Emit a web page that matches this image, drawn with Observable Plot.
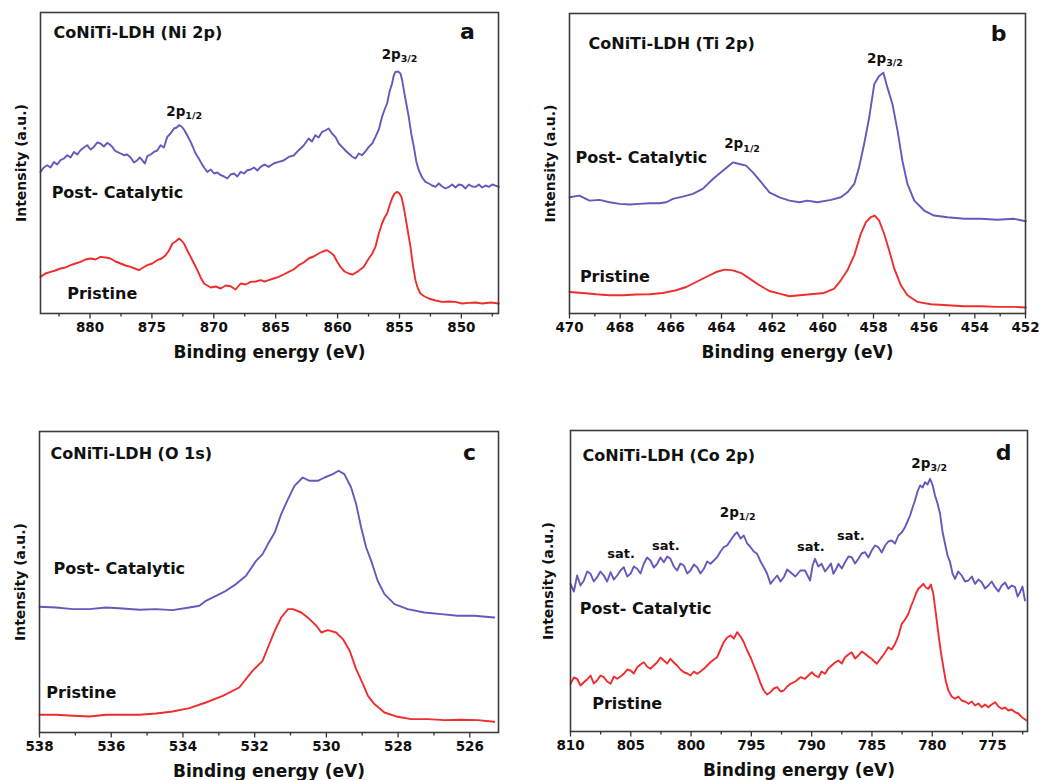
<!DOCTYPE html>
<html><head><meta charset="utf-8">
<script src="https://cdn.jsdelivr.net/npm/d3@7"></script>
<script src="https://cdn.jsdelivr.net/npm/@observablehq/plot@0.6"></script>
<style>
body{margin:0;background:#fff;}
#wrap{position:relative;width:1040px;height:780px;overflow:hidden;}
.panel{position:absolute;}
</style></head><body><div id="wrap"></div>
<script>
// ---------- data (binding energy eV, intensity a.u.) ----------
const niPost = [[884.0,141.6],[883.73,146],[883.46,148.3],[883.19,146],[882.92,151.6],[882.65,149],[882.38,153.3],[882.11,155],[881.84,158.3],[881.57,156],[881.30,161.6],[881.03,159],[880.77,163.3],[880.5,166],[880.23,168.3],[879.96,164],[879.69,166.6],[879.42,171],[879.15,170],[878.88,167],[878.61,170.6],[878.40,169],[878.20,166.6],[878.0,163],[877.80,161.6],[877.53,160],[877.26,158.3],[877.0,159],[876.72,156],[876.45,151],[876.18,153.3],[875.98,156],[875.78,153.3],[875.57,150],[875.37,157.3],[875.1,159],[874.84,161.6],[874.57,163],[874.30,168.3],[874.03,166],[873.76,176.6],[873.49,180],[873.22,185],[873.0,186],[872.81,188.3],[872.6,187],[872.41,184],[872.14,178],[871.87,171.6],[871.67,166],[871.47,160],[871.26,156],[871.06,151.6],[870.79,146],[870.52,141.6],[870.25,144],[869.98,140],[869.71,141],[869.44,138.3],[869.17,137],[868.91,135],[868.64,139],[868.37,140],[868.1,137],[867.83,141.6],[867.56,140],[867.29,143.3],[867.02,144],[866.75,146],[866.48,143],[866.21,146.6],[865.9,149],[865.57,146.6],[865.17,150],[864.76,151.6],[864.36,153],[863.95,156.6],[863.55,158],[863.14,163.3],[862.74,168],[862.34,175],[862.07,172],[861.80,178.3],[861.53,176],[861.26,181.6],[861.0,183],[860.72,185],[860.45,180],[860.18,176.6],[859.9,170],[859.64,166.6],[859.37,163],[859.10,160],[858.83,157],[858.56,155],[858.29,160],[858.02,158.3],[857.75,162],[857.48,166.6],[857.2,170],[856.94,176.6],[856.67,184],[856.41,196.6],[856.2,204],[856.0,210],[855.8,222],[855.60,230],[855.46,238],[855.33,241.6],[855.12,242],[854.92,240],[854.78,233],[854.65,223.3],[854.45,210],[854.25,196.6],[854.05,180],[853.84,166.6],[853.64,152],[853.44,143.3],[853.17,136],[852.90,131.6],[852.63,130],[852.36,128],[852.09,126.6],[851.82,130],[851.55,127],[851.28,125],[851.01,126.6],[850.74,129],[850.48,126],[850.21,129],[849.94,128.3],[849.67,125],[849.40,129],[849.13,127],[848.86,126.6],[848.59,129],[848.32,126],[848.05,128],[847.78,126.6],[847.5,129],[846.97,126.6]];
const niPristine = [[884.0,36.6],[883.6,40],[883.19,41.6],[882.8,43],[882.38,45],[881.98,46],[881.57,48.3],[881.17,50],[880.77,51.6],[880.37,54],[879.96,55],[879.56,54],[879.15,56.6],[878.75,56],[878.34,55],[877.94,52],[877.53,50],[877.13,48],[876.72,46.6],[876.38,45],[876.05,43.3],[875.71,46],[875.37,48.3],[874.97,50],[874.57,53.3],[874.23,55],[873.89,58.3],[873.62,63],[873.35,70],[873.08,72],[872.81,75],[872.61,73],[872.41,70],[872.14,63],[871.87,56.6],[871.6,50],[871.33,43.3],[871.06,36],[870.79,30],[870.52,28],[870.25,26],[869.85,27],[869.44,25],[869.04,28],[868.64,27.3],[868.24,24],[867.83,30],[867.43,29],[867.02,31.6],[866.62,32],[866.21,33.3],[865.9,32],[865.57,33.3],[865.17,35],[864.76,36.6],[864.36,39],[863.95,41.6],[863.55,44],[863.14,48.3],[862.74,51],[862.34,55],[861.94,57],[861.53,60],[861.19,62],[860.85,63.3],[860.58,61],[860.31,58.3],[860.04,52],[859.77,46.6],[859.44,42],[859.10,40],[858.77,39],[858.43,41.6],[858.16,44],[857.89,46.6],[857.68,51],[857.48,55],[857.2,60],[856.94,66.6],[856.67,80],[856.41,90],[856.2,96],[856.0,100],[855.8,108],[855.60,115],[855.4,120],[855.19,121.6],[855.0,120],[854.84,116.6],[854.68,108],[854.52,96.6],[854.32,82],[854.11,66.6],[853.91,48],[853.71,33.3],[853.51,25],[853.31,20],[852.97,17],[852.63,15],[852.09,13],[851.55,11.6],[851.0,12],[850.48,11.6],[849.94,10],[849.40,10.6],[848.86,11],[848.32,10],[847.6,11],[846.97,10]];

const tiPost = [[470,116.6],[469.61,118.3],[469.21,113.3],[468.82,114],[468.42,111.6],[468.03,110],[467.63,109.3],[467.24,110],[466.84,110.6],[466.45,110.6],[466.18,111.6],[465.92,115],[465.53,117.3],[465.13,120],[464.74,125],[464.34,135],[463.95,143.3],[463.55,151.6],[463.29,150],[463.03,148.3],[462.76,141.6],[462.43,131.6],[462.11,121.6],[461.71,116.6],[461.32,113.3],[460.92,111.6],[460.61,113.3],[460.21,111.6],[459.68,114],[459.29,116.6],[459.03,121.6],[458.76,130],[458.57,146.6],[458.37,170],[458.17,196.6],[457.97,230],[457.78,238.3],[457.61,241.6],[457.45,226.6],[457.25,210],[457.05,183.3],[456.86,153.3],[456.66,130],[456.39,113.3],[456.0,103.3],[455.61,98.3],[455.08,96.6],[454.42,95],[453.76,95],[453.11,94],[452.45,95],[451.99,92.6]];
const tiPristine = [[470,21.6],[469.47,20.6],[468.95,19.3],[468.42,18.3],[467.89,18.3],[467.37,19],[466.84,19.3],[466.32,20.6],[465.79,23.3],[465.39,26.6],[465.0,31.6],[464.61,36.6],[464.21,41.6],[463.88,44],[463.55,43.3],[463.22,40.6],[462.89,35],[462.5,28.3],[462.11,22.6],[461.71,20],[461.32,17.3],[460.92,18.3],[460.47,19.3],[459.95,20.6],[459.55,25],[459.29,33.3],[459.03,43.3],[458.76,58.3],[458.5,80],[458.30,91.6],[458.11,96.6],[457.95,98.3],[457.78,93.3],[457.58,80],[457.38,63.3],[457.18,45],[456.92,28.3],[456.66,18.3],[456.26,11.6],[455.74,9.3],[455.08,8.3],[454.42,7.3],[453.76,7.3],[453.11,6.6],[452.45,6.6],[451.99,6]];

const oPost = [[538,125.7],[537.54,125],[537.07,123.4],[536.61,123.4],[536.14,125],[535.68,124],[535.21,122.7],[534.75,123.4],[534.29,122.4],[533.82,125],[533.54,126.7],[533.36,131.7],[533.08,136.7],[532.80,141.7],[532.52,148.4],[532.24,156.7],[531.96,171.7],[531.78,178.4],[531.63,188.4],[531.44,200],[531.26,218.4],[531.07,233.4],[530.89,246.7],[530.66,255],[530.47,251.7],[530.24,251.7],[530.05,255],[529.82,258.4],[529.66,261.7],[529.5,258.4],[529.31,245],[529.17,228.4],[529.03,205],[528.89,185],[528.75,171.7],[528.57,151.7],[528.38,138.4],[528.1,128.4],[527.73,123.4],[527.27,120],[526.8,118.4],[526.34,116.7],[525.87,116.7],[525.32,115]];
const oPristine = [[538,17.7],[537.54,17.7],[537.07,16.7],[536.61,16],[536.14,17.7],[535.68,17.7],[535.21,17.7],[534.75,19],[534.29,21],[533.82,24.4],[533.36,30],[532.89,36.7],[532.43,45],[532.06,61.7],[531.78,71.7],[531.63,85],[531.44,101.7],[531.26,115],[531.07,123.4],[530.93,123.4],[530.70,120],[530.47,113.4],[530.28,106.7],[530.14,100],[529.96,102.4],[529.73,100],[529.54,93.4],[529.35,81.7],[529.17,63.4],[528.98,48.4],[528.84,36.7],[528.66,28.4],[528.38,20],[528.01,15.7],[527.64,13.4],[527.17,13.4],[526.71,12.4],[526.24,12.7],[525.78,12.4],[525.32,10.7]];

const coPost = [[810,147.7],[809.72,140],[809.45,156],[809.17,146],[808.89,151],[808.62,160],[808.34,157.7],[808.07,150],[807.79,154.3],[807.52,160],[807.24,156],[806.96,150],[806.68,159.3],[806.4,152],[806.13,156],[805.85,161],[805.58,164.3],[805.3,155],[805.02,157.7],[804.75,165],[804.47,162.7],[804.2,158],[803.92,167.7],[803.65,174],[803.37,171],[803.09,164],[802.81,167.7],[802.54,174],[802.26,169.3],[801.98,175],[801.71,172.7],[801.43,165],[801.16,161],[800.88,168],[800.60,166],[800.32,158],[800.05,161],[799.77,167],[799.50,164.3],[799.22,158],[798.94,162.7],[798.67,170],[798.39,167.7],[798.11,171],[797.84,174.3],[797.56,180],[797.29,184.3],[797.01,186],[796.73,191],[796.45,196],[796.18,199.3],[795.9,193],[795.63,196],[795.35,188],[795.07,184.3],[794.8,180],[794.52,177.7],[794.24,170],[793.97,164.3],[793.7,158],[793.42,147.7],[793.14,152],[792.86,156],[792.58,150],[792.31,154.3],[792.03,162],[791.76,159.3],[791.35,155],[790.93,161],[790.55,161],[790.34,156],[790.13,151],[789.92,166],[789.72,172.7],[789.45,165],[789.17,167.7],[788.89,160],[788.61,164.3],[788.4,168],[788.2,157.7],[787.99,162],[787.78,167.7],[787.5,163],[787.23,169.3],[786.95,175],[786.68,174.3],[786.4,168],[786.12,172.7],[785.85,178],[785.57,179.3],[785.3,174],[785.02,181],[784.75,186],[784.47,184.3],[784.19,179],[783.91,186],[783.64,190],[783.36,191],[783.08,188],[782.81,196],[782.53,199],[782.26,204.3],[782.05,210],[781.84,216],[781.63,224],[781.43,231],[781.22,240],[781.01,246],[780.8,244],[780.6,249.3],[780.39,247],[780.18,252.7],[779.98,247],[779.77,236],[779.56,228],[779.35,217.7],[779.15,200],[778.94,187.7],[778.73,176],[778.52,169.3],[778.32,158],[778.11,152.7],[777.84,160],[777.56,156],[777.28,150],[777.0,151],[776.72,155],[776.45,147.7],[776.17,152],[775.9,149.3],[775.62,143],[775.35,146],[775.07,150],[774.79,144.3],[774.51,140],[774.24,146],[773.96,149],[773.69,142.7],[773.41,146],[773.13,144.3],[772.92,135],[772.72,139.3],[772.52,145],[772.31,131]];
const coPristine = [[810,47.7],[809.72,54],[809.45,52.7],[809.17,46],[808.89,49.3],[808.62,52],[808.34,56],[808.07,48],[807.79,51],[807.52,56],[807.24,54.3],[806.96,50],[806.68,47.7],[806.4,55],[806.13,52.7],[805.85,55],[805.58,57.7],[805.3,62],[805.02,61],[804.75,58],[804.47,64.3],[804.2,67],[803.92,69.3],[803.65,65],[803.37,62.7],[803.09,66],[802.81,69.3],[802.54,74],[802.26,71],[801.98,68],[801.71,72.7],[801.43,69],[801.16,66],[800.88,62],[800.60,59.3],[800.32,58],[800.05,56],[799.77,60],[799.50,57.7],[799.22,60],[798.94,62.7],[798.67,66],[798.39,69.3],[798.11,72],[797.84,74.3],[797.56,82],[797.29,89.3],[797.01,94],[796.73,96],[796.45,93],[796.18,99.3],[795.9,95],[795.63,89.3],[795.35,81],[795.07,74.3],[794.8,66],[794.52,57.7],[794.24,48],[793.97,41],[793.7,37],[793.42,39.3],[793.14,43],[792.86,44.3],[792.58,40],[792.31,41],[792.03,45],[791.76,47.7],[791.35,50],[790.93,54.3],[790.55,52.7],[790.27,56],[789.99,59.3],[789.72,56],[789.44,54.3],[789.17,60],[788.89,57.7],[788.62,63],[788.34,66],[788.06,69],[787.78,71],[787.5,68],[787.23,74.3],[786.95,77],[786.68,79.3],[786.4,73],[786.12,76],[785.85,80],[785.57,77.7],[785.3,75],[785.02,72.7],[784.81,70],[784.6,67.7],[784.4,71],[784.19,74.3],[783.91,79],[783.64,84.3],[783.36,82],[783.08,87.7],[782.8,96],[782.53,107.7],[782.25,112],[781.98,117.7],[781.77,125],[781.56,131],[781.35,138],[781.15,142.7],[780.95,145],[780.74,147.7],[780.53,144],[780.32,142.7],[780.12,147],[779.91,137.7],[779.7,118],[779.49,97.7],[779.29,80],[779.08,64.3],[778.87,50],[778.66,41],[778.39,35],[778.11,32.7],[777.84,35],[777.56,31],[777.28,30],[777.0,27.7],[776.72,30],[776.45,26],[776.17,28],[775.9,24.3],[775.62,27],[775.35,24.3],[775.07,27],[774.79,29.3],[774.51,25],[774.24,22.7],[773.96,24],[773.69,21],[773.41,22],[773.13,19.3],[772.86,18],[772.58,14.3],[772.17,11]];

// tick values
const niMajor = [880, 875, 870, 865, 860, 855, 850];
const niMinor = [882.5, 877.5, 872.5, 867.5, 862.5, 857.5, 852.5, 847.5];
const tiMajor = [470, 468, 466, 464, 462, 460, 458, 456, 454, 452];
const tiMinor = [469, 467, 465, 463, 461, 459, 457, 455, 453];
const oMajor = [538, 536, 534, 532, 530, 528, 526];
const oMinor = [537, 535, 533, 531, 529, 527];
const coMajor = [810, 805, 800, 795, 790, 785, 780, 775];
const coMinor = [807.5, 802.5, 797.5, 792.5, 787.5, 782.5, 777.5, 772.5];

// annotations
const niPeaks = [{e: 872.3, i: 201.6, sub: "1/2"}, {e: 854.9, i: 259, sub: "3/2"}];
const tiPeaks = [{e: 463.14, i: 170, sub: "1/2"}, {e: 457.5, i: 256, sub: "3/2"}];
const coPeaks = [{e: 796.04, i: 219, sub: "1/2"}, {e: 780.15, i: 268, sub: "3/2"}];
const coSat = [{e: 805.8, i: 177.7}, {e: 802.1, i: 186}, {e: 790.07, i: 185}, {e: 786.76, i: 196}];
const niSamples = [{e: 883.1, i: 121, t: "Post- Catalytic"}, {e: 881.84, i: 20, t: "Pristine"}];
const tiSamples = [{e: 469.76, i: 156, t: "Post- Catalytic"}, {e: 469.59, i: 37, t: "Pristine"}];
const oSamples = [{e: 537.61, i: 163.4, t: "Post- Catalytic"}, {e: 537.81, i: 40, t: "Pristine"}];
const coSamples = [{e: 809.23, i: 122.7, t: "Post- Catalytic"}, {e: 808.2, i: 27.7, t: "Pristine"}];

// ---------- drawing ----------
const PURPLE = "#6a56bd", RED = "#ef2d2d", INK = "#111";
const FONT = "DejaVu Sans";

function panel(p) {
  const marks = [
    Plot.line(p.post, {x: d => d[0], y: d => d[1], stroke: PURPLE, strokeWidth: 1.9}),
    Plot.line(p.pristine, {x: d => d[0], y: d => d[1], stroke: RED, strokeWidth: 1.9}),
    Plot.frame({stroke: "#3c3c3c", strokeWidth: 1.6}),
    Plot.axisX({ticks: p.minor, tickFormat: () => "", tickSize: 3.5, stroke: "#333", strokeWidth: 1.3, label: null}),
    Plot.axisX({ticks: p.major, tickFormat: d => String(d), tickSize: 5.5, tickPadding: 3, fontSize: 13.5, fontWeight: "bold", fill: INK, stroke: "#333", strokeWidth: 1.3, label: null}),
    Plot.text(["Binding energy (eV)"], {frameAnchor: "bottom", dy: 39, lineAnchor: "middle", textAnchor: "middle", fontSize: 17, fontWeight: "bold", fill: INK}),
    Plot.text(["Intensity (a.u.)"], {frameAnchor: "left", rotate: -90, dx: p.ylabDx, textAnchor: "middle", lineAnchor: "middle", fontSize: 14, fontWeight: "bold", fill: INK}),
    Plot.text([p.title], {frameAnchor: "top-left", dx: p.titleDx, dy: p.titleDy, textAnchor: "start", lineAnchor: "middle", fontSize: 16, fontWeight: "bold", fill: INK}),
    Plot.text([p.letter], {frameAnchor: "top-right", dx: p.letterDx, dy: p.letterDy, textAnchor: "middle", lineAnchor: "middle", fontSize: 22, fontWeight: "bold", fill: INK}),
    Plot.text(p.samples, {x: "e", y: "i", text: "t", textAnchor: "start", fontSize: 16, fontWeight: "bold", fill: INK})
  ];
  if (p.peaks) {
    marks.push(Plot.text(p.peaks, {x: "e", y: "i", text: () => "2p", textAnchor: "end", fontSize: 13.5, fontWeight: "bold", fill: INK}));
    marks.push(Plot.text(p.peaks, {x: "e", y: "i", text: "sub", textAnchor: "start", dy: 4.5, fontSize: 9.5, fontWeight: "bold", fill: INK}));
  }
  if (p.sat) {
    marks.push(Plot.text(p.sat, {x: "e", y: "i", text: () => "sat.", fontSize: 13, fontWeight: "bold", fill: INK}));
  }
  const svg = Plot.plot({
    width: 520, height: 390,
    marginLeft: p.m[0], marginRight: p.m[1], marginTop: p.m[2], marginBottom: p.m[3],
    x: {domain: p.domain},
    y: {domain: [0, 301], axis: null},
    style: {fontFamily: FONT, background: "transparent", overflow: "visible"},
    marks
  });
  svg.classList.add("panel");
  svg.style.left = p.pos[0] + "px";
  svg.style.top = p.pos[1] + "px";
  document.getElementById("wrap").appendChild(svg);
}

panel({post: niPost, pristine: niPristine, domain: [884, 847], major: niMajor, minor: niMinor,
  title: "CoNiTi-LDH (Ni 2p)", letter: "a", peaks: niPeaks, samples: niSamples,
  m: [40, 22, 12, 77], pos: [0, 0], ylabDx: -19, titleDx: 13, titleDy: 20, letterDx: -31, letterDy: 19});
panel({post: tiPost, pristine: tiPristine, domain: [470, 452], major: tiMajor, minor: tiMinor,
  title: "CoNiTi-LDH (Ti 2p)", letter: "b", peaks: tiPeaks, samples: tiSamples,
  m: [49, 15, 13, 77], pos: [520, 0], ylabDx: -19, titleDx: 19, titleDy: 30, letterDx: -27, letterDy: 20});
panel({post: oPost, pristine: oPristine, domain: [538, 525.2], major: oMajor, minor: oMinor,
  title: "CoNiTi-LDH (O 1s)", letter: "c", samples: oSamples,
  m: [39, 22, 41, 48], pos: [0, 390], ylabDx: -19, titleDx: 11, titleDy: 22, letterDx: -29, letterDy: 21});
panel({post: coPost, pristine: coPristine, domain: [810, 772.1], major: coMajor, minor: coMinor,
  title: "CoNiTi-LDH (Co 2p)", letter: "d", peaks: coPeaks, sat: coSat, samples: coSamples,
  m: [50, 13, 40, 49], pos: [520, 390], ylabDx: -22, titleDx: 12, titleDy: 25, letterDx: -24, letterDy: 22});
</script>
</body></html>
